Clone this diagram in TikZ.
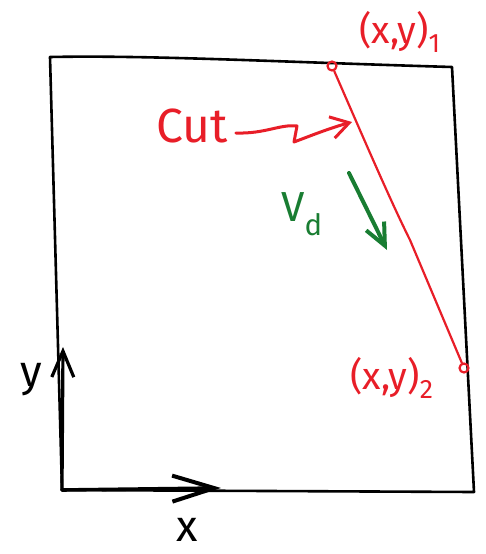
\documentclass[tikz,border=0pt]{standalone}
\usepackage{fontspec}
\setmainfont{Fira Sans}
\usetikzlibrary{arrows.meta}
\definecolor{penred}{RGB}{232,30,40}
\definecolor{pengreen}{RGB}{25,125,50}
\tikzset{
  ink/.style={line width=2.6pt, line cap=round, line join=round},
  redink/.style={ink, penred, line width=2.2pt},
  lbl/.style={inner sep=0pt},
  ptmark/.style={circle, draw=penred, line width=2.2pt, minimum size=9pt, inner sep=0pt}
}
\begin{document}
\begin{tikzpicture}[x=1pt,y=-1pt]
\useasboundingbox (0,0) rectangle (485,554);
% box corners
\coordinate (tl) at (50,57);
\coordinate (tr) at (452,67);
\coordinate (br) at (474,492);
\coordinate (bl) at (62,490);
\draw[ink] (tl) .. controls (150,55) and (280,62) .. (tr) -- (br) -- (bl) -- cycle;
% axes
\coordinate (ytip) at (63,347);
\coordinate (xtip) at (221,488);
\draw[ink, line width=3.2pt, -{Straight Barb[length=26pt,width=22pt,line width=3.2pt]}] (bl) -- (ytip);
\draw[ink, line width=3.6pt, -{Straight Barb[length=42pt,width=26pt,line width=4pt]}] (bl) -- (xtip);
\node[lbl, font=\fontsize{44}{44}\selectfont] (ylab) at (31,380) {y};
\node[lbl, font=\fontsize{44}{44}\selectfont] (xlab) at (187,530) {x};
% cut line
\node[ptmark] (p1) at (332,66) {};
\node[ptmark] (p2) at (464,368) {};
\draw[redink] (p1) .. controls (360,130) and (390,200) .. (410,240) -- (p2);
\node[lbl, text=penred, font=\fontsize{38}{38}\selectfont] (l1) at (400,32) {(x,y)\textsubscript{1}};
\node[lbl, text=penred, font=\fontsize{38}{38}\selectfont] (l2) at (392,378) {(x,y)\textsubscript{2}};
\node[lbl, text=penred, font=\fontsize{48}{48}\selectfont] (cut) at (192,126) {Cut};
\coordinate (cuttip) at (352,122);
\draw[redink, line width=3pt, -{Straight Barb[length=18pt,width=22pt,line width=3pt]}]
  (cut.east) ++(8,7) .. controls (265,134) and (280,124) .. (297,126)
  -- (294,142) .. controls (310,136) and (330,128) .. (cuttip);
% velocity
\coordinate (vs) at (349,173);
\coordinate (ve) at (387,250);
\draw[ink, pengreen, line width=4pt, -{Straight Barb[length=22pt,width=20pt,line width=4pt]}] (vs) -- (ve);
\node[lbl, text=pengreen, font=\fontsize{42}{42}\selectfont] (vd) at (302,214) {V\textsubscript{d}};
\end{tikzpicture}
\end{document}
